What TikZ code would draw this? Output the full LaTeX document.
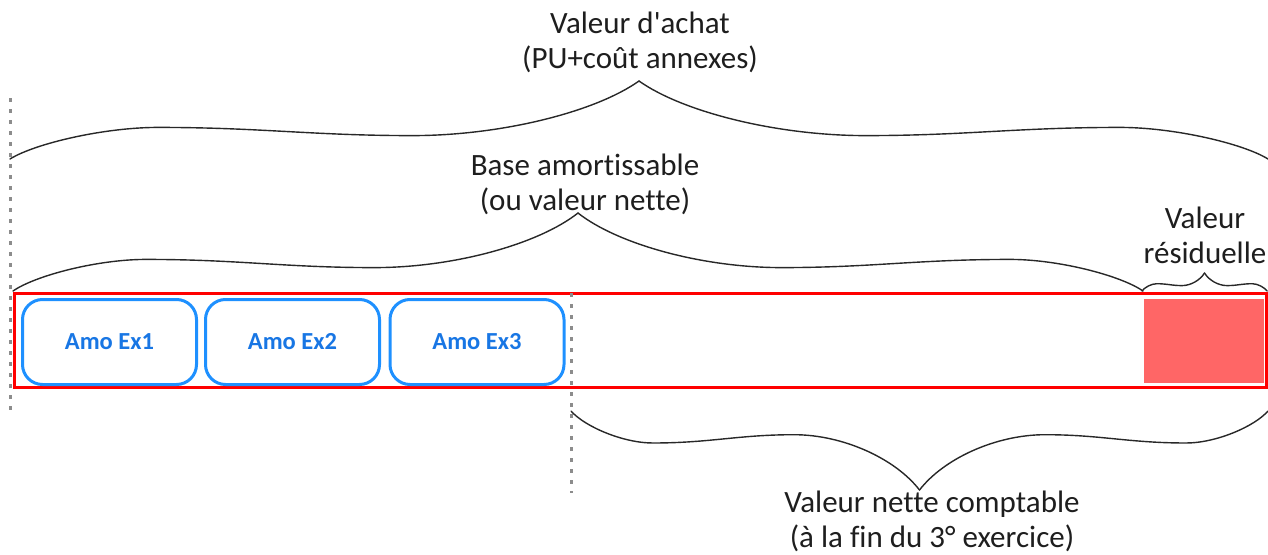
\documentclass[tikz,border=0pt]{standalone}
\usepackage{fontspec}
\setmainfont{Carlito}[Ligatures={NoCommon}]
\definecolor{boxblue}{RGB}{30,144,255}
\definecolor{txtblue}{RGB}{24,118,228}
\definecolor{pinkfill}{RGB}{255,102,102}
\definecolor{dotgray}{RGB}{140,140,140}
\definecolor{bracecol}{RGB}{40,40,40}
\definecolor{lblcol}{RGB}{30,30,30}
\newcommand\officebrace[4]{%
  \pgfmathsetmacro\bL{(#2-#1)/2}%
  \pgfmathsetmacro\bH{#4-#3}%
  \begin{scope}[shift={(#1,#3)},xscale=\bL,yscale=\bH]
    \draw[bracestyle] (0,0) .. controls (0.04,0.2) and (0.15,0.405) .. (0.235,0.405)
      .. controls (0.40,0.405) and (0.48,0.30) .. (0.64,0.30)
      .. controls (0.78,0.30) and (0.93,0.6) .. (1,1);
  \end{scope}
  \begin{scope}[shift={(#2,#3)},xscale=-\bL,yscale=\bH]
    \draw[bracestyle] (0,0) .. controls (0.04,0.2) and (0.15,0.405) .. (0.235,0.405)
      .. controls (0.40,0.405) and (0.48,0.30) .. (0.64,0.30)
      .. controls (0.78,0.30) and (0.93,0.6) .. (1,1);
  \end{scope}}
\tikzset{
  bracestyle/.style={draw=bracecol,line width=1.4pt,line cap=round,line join=round},
  lbl/.style={inner sep=0pt,anchor=base,text=lblcol,font=\fontsize{31}{35}\selectfont},
  amobox/.style={draw=boxblue,line width=3pt,rounded corners=20pt,minimum width=174pt,
    minimum height=85pt,inner sep=0pt,text=txtblue,font=\bfseries\fontsize{24.5}{28}\selectfont},
  redframe/.style={draw=red,line width=3.3pt},
  dotline/.style={draw=dotgray,line width=3pt,dash pattern=on 4pt off 7pt},
}
\begin{document}
\begin{tikzpicture}[x=1pt,y=-1pt]
\useasboundingbox (0,0) rectangle (1268,554);
% residual value fill
\fill[pinkfill,draw=white,line width=1pt] (1143,298.5) rectangle (1264,383.5);
% red frame
\draw[redframe] (14.7,293.3) rectangle (1266.5,387.3);
% amortization boxes
\node[amobox] (ex1) at (109.5,342) {Amo Ex1};
\node[amobox] (ex2) at (292.5,342) {Amo Ex2};
\node[amobox] (ex3) at (477,342) {Amo Ex3};
% braces
\officebrace{10}{1268}{159}{81}
\officebrace{13}{1143}{291}{213}
\officebrace{1142}{1267}{291}{273}
\officebrace{571}{1268}{411}{490}
% dotted lines
\draw[dotline] (10,98) -- (10,410);
\draw[dotline] (571.5,293) -- (571.5,493);
% labels
\node[lbl] (achat1) at (640,33) {Valeur d\textquotesingle achat};
\node[lbl] (achat2) at (640,68) {(PU+coût annexes)};
\node[lbl] (base1) at (585,175) {Base amortissable};
\node[lbl] (base2) at (585,210) {(ou valeur nette)};
\node[lbl] (resid1) at (1205,228) {Valeur};
\node[lbl] (resid2) at (1205,263) {résiduelle};
\node[lbl] (vnc1) at (932,512) {Valeur nette comptable};
\node[lbl] (vnc2) at (932,547) {(à la fin du 3° exercice)};
\end{tikzpicture}
\end{document}
